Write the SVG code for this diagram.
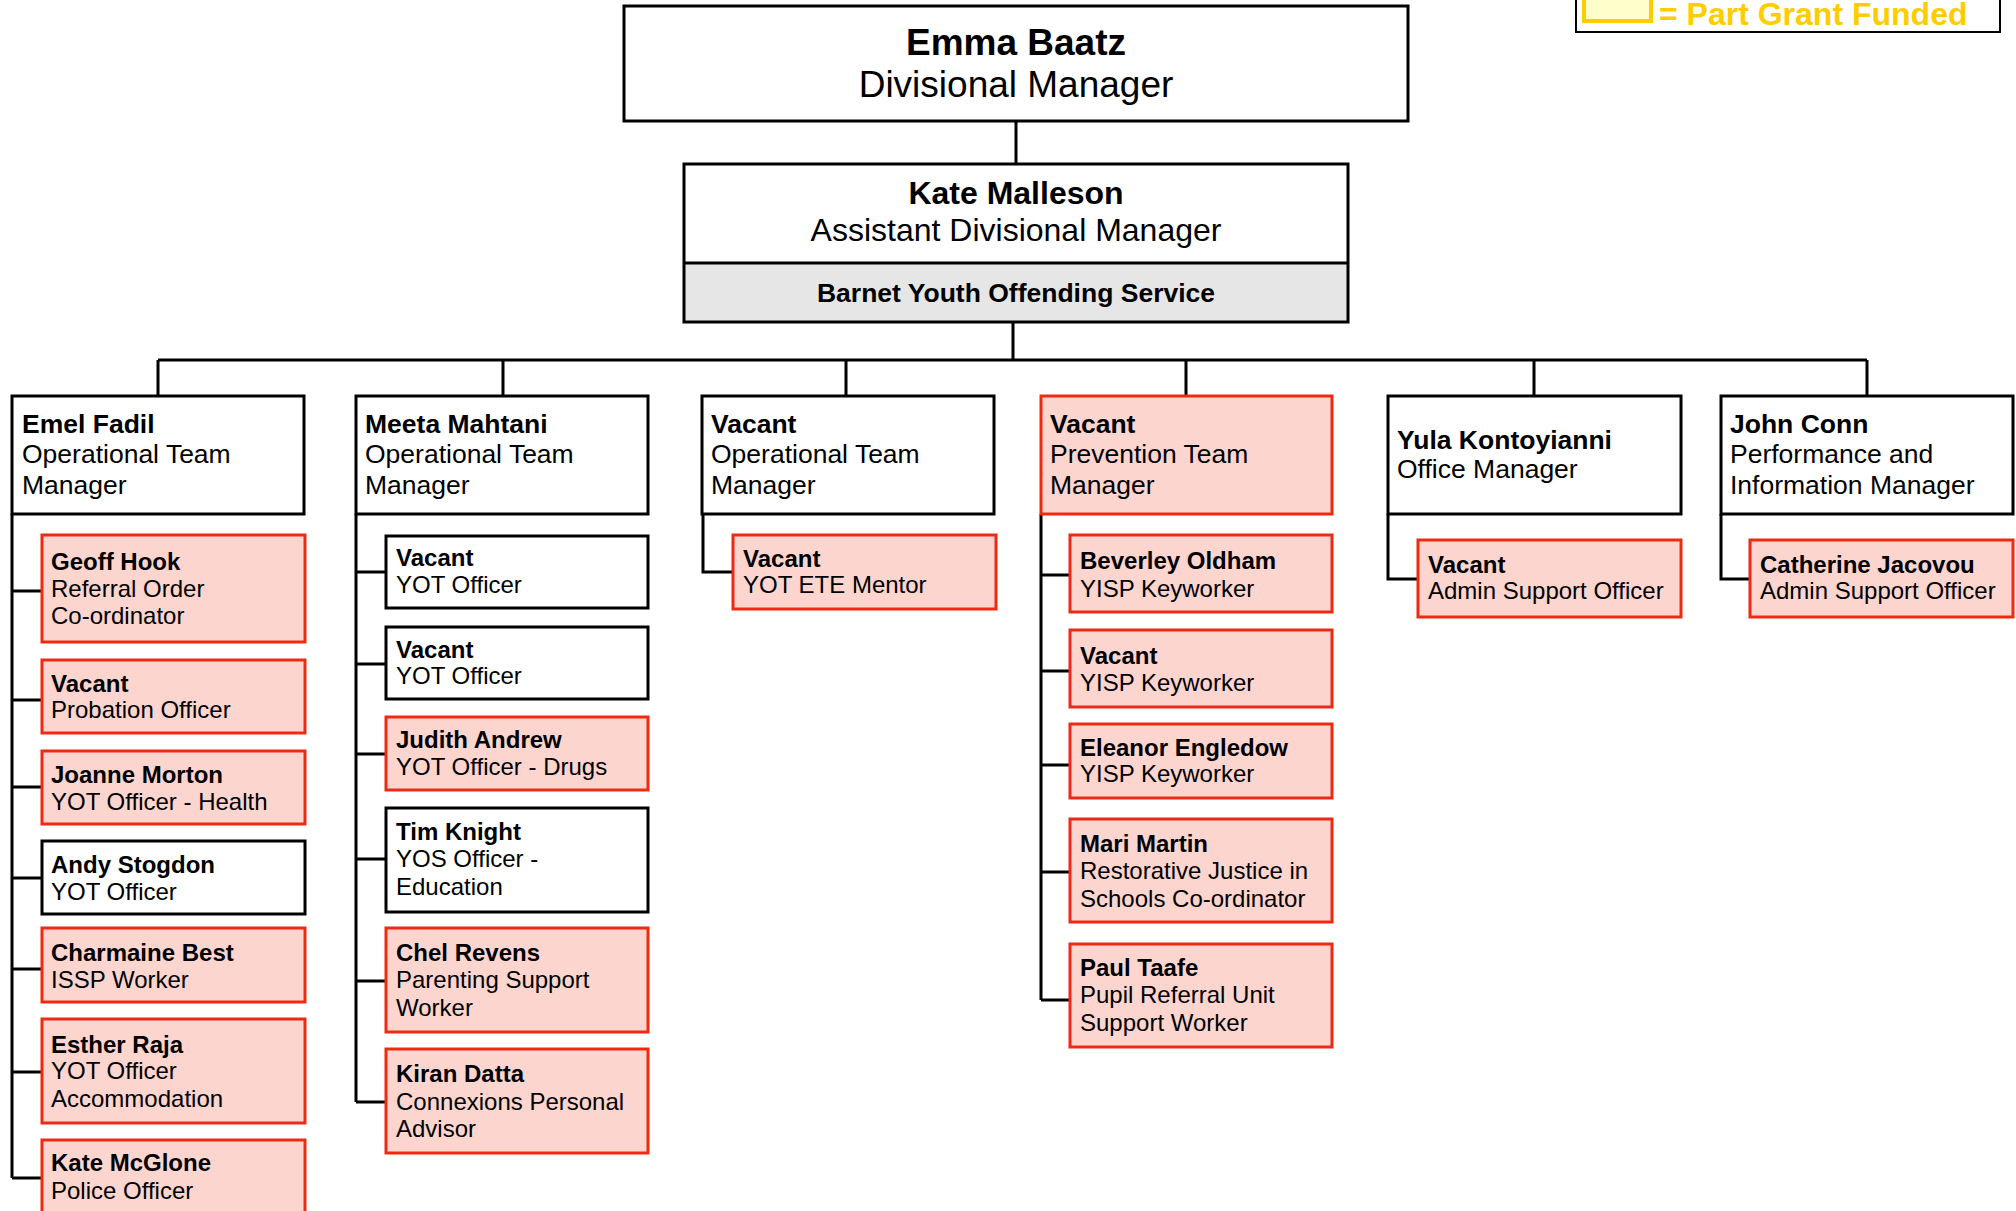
<svg xmlns="http://www.w3.org/2000/svg" width="2016" height="1211" viewBox="0 0 2016 1211">
<style>
.w{fill:#fff;stroke:#000;stroke-width:3}
.p{fill:#FCD5CF;stroke:#F02A12;stroke-width:3}
.c{fill:none;stroke:#000;stroke-width:3}
text{font-family:"Liberation Sans",Arial,sans-serif;fill:#000}
.b{font-weight:bold}
.f37{font-size:37px}
.f32{font-size:32px}
.f26{font-size:26.5px}
.f24{font-size:24px}
.m{text-anchor:middle}
</style>
<rect width="2016" height="1211" fill="#fff"/>
<g id="legend">
<rect x="1576" y="-10" width="424" height="42" fill="#fff" stroke="#000" stroke-width="2"/>
<rect x="1584" y="-10" width="67" height="31" fill="#FFFFCC" stroke="#FFCC00" stroke-width="4"/>
<text x="1659" y="25" class="b f32" style="fill:#FFCC00">= Part Grant Funded</text>
</g>
<g id="connectors">
<path class="c" d="M1016 121V164M1013 322V360M158 360H1867M158 360V396M503 360V396M846 360V396M1186 360V396M1534 360V396M1867 360V396"/>
<path class="c" d="M12 514V1178M12 591H42M12 700H42M12 787H42M12 878H42M12 969H42M12 1072H42M12 1178H42"/>
<path class="c" d="M356 514V1102M356 572H386M356 664H386M356 754H386M356 859H386M356 981H386M356 1102H386"/>
<path class="c" d="M703 514V572H733"/>
<path class="c" d="M1041 514V1000M1041 575H1070M1041 671H1070M1041 765H1070M1041 872H1070M1041 1000H1070"/>
<path class="c" d="M1388 514V579H1418"/>
<path class="c" d="M1721 514V579H1750"/>
</g>
<g id="emma">
<rect class="w" x="624" y="6" width="784" height="115"/>
<text x="1016" y="55" class="b f37 m">Emma Baatz</text>
<text x="1016" y="97" class="f37 m">Divisional Manager</text>
</g>
<g id="kate">
<rect x="684" y="263" width="664" height="59" fill="#E6E6E6"/>
<rect x="684" y="164" width="664" height="158" fill="none" stroke="#000" stroke-width="3"/>
<line x1="684" y1="263" x2="1348" y2="263" stroke="#000" stroke-width="3"/>
<text x="1016" y="204" class="b f32 m">Kate Malleson</text>
<text x="1016" y="241" class="f32 m">Assistant Divisional Manager</text>
<text x="1016" y="302" class="b f26 m">Barnet Youth Offending Service</text>
</g>
<g id="emel">
<rect class="w" x="12" y="396" width="292" height="118"/>
<text x="22" y="433" class="b f26">Emel Fadil</text>
<text x="22" y="463" class="f26">Operational Team</text>
<text x="22" y="494" class="f26">Manager</text>
</g>
<g id="geoff">
<rect class="p" x="42" y="535" width="263" height="107"/>
<text x="51" y="570" class="b f24">Geoff Hook</text>
<text x="51" y="597" class="f24">Referral Order</text>
<text x="51" y="624" class="f24">Co-ordinator</text>
</g>
<g id="probation">
<rect class="p" x="42" y="660" width="263" height="73"/>
<text x="51" y="692" class="b f24">Vacant</text>
<text x="51" y="718" class="f24">Probation Officer</text>
</g>
<g id="joanne">
<rect class="p" x="42" y="751" width="263" height="73"/>
<text x="51" y="783" class="b f24">Joanne Morton</text>
<text x="51" y="810" class="f24">YOT Officer - Health</text>
</g>
<g id="andy">
<rect class="w" x="42" y="841" width="263" height="73"/>
<text x="51" y="873" class="b f24">Andy Stogdon</text>
<text x="51" y="900" class="f24">YOT Officer</text>
</g>
<g id="charmaine">
<rect class="p" x="42" y="928" width="263" height="74"/>
<text x="51" y="961" class="b f24">Charmaine Best</text>
<text x="51" y="988" class="f24">ISSP Worker</text>
</g>
<g id="esther">
<rect class="p" x="42" y="1019" width="263" height="104"/>
<text x="51" y="1053" class="b f24">Esther Raja</text>
<text x="51" y="1079" class="f24">YOT Officer</text>
<text x="51" y="1107" class="f24">Accommodation</text>
</g>
<g id="katemcglone">
<rect class="p" x="42" y="1140" width="263" height="76"/>
<text x="51" y="1171" class="b f24">Kate McGlone</text>
<text x="51" y="1199" class="f24">Police Officer</text>
</g>
<g id="meeta">
<rect class="w" x="356" y="396" width="292" height="118"/>
<text x="365" y="433" class="b f26">Meeta Mahtani</text>
<text x="365" y="463" class="f26">Operational Team</text>
<text x="365" y="494" class="f26">Manager</text>
</g>
<g id="yot1">
<rect class="w" x="386" y="536" width="262" height="72"/>
<text x="396" y="566" class="b f24">Vacant</text>
<text x="396" y="593" class="f24">YOT Officer</text>
</g>
<g id="yot2">
<rect class="w" x="386" y="627" width="262" height="72"/>
<text x="396" y="658" class="b f24">Vacant</text>
<text x="396" y="684" class="f24">YOT Officer</text>
</g>
<g id="judith">
<rect class="p" x="386" y="717" width="262" height="73"/>
<text x="396" y="748" class="b f24">Judith Andrew</text>
<text x="396" y="775" class="f24">YOT Officer - Drugs</text>
</g>
<g id="tim">
<rect class="w" x="386" y="808" width="262" height="104"/>
<text x="396" y="840" class="b f24">Tim Knight</text>
<text x="396" y="867" class="f24">YOS Officer -</text>
<text x="396" y="895" class="f24">Education</text>
</g>
<g id="chel">
<rect class="p" x="386" y="928" width="262" height="104"/>
<text x="396" y="961" class="b f24">Chel Revens</text>
<text x="396" y="988" class="f24">Parenting Support</text>
<text x="396" y="1016" class="f24">Worker</text>
</g>
<g id="kiran">
<rect class="p" x="386" y="1049" width="262" height="104"/>
<text x="396" y="1082" class="b f24">Kiran Datta</text>
<text x="396" y="1110" class="f24">Connexions Personal</text>
<text x="396" y="1137" class="f24">Advisor</text>
</g>
<g id="otm3">
<rect class="w" x="702" y="396" width="292" height="118"/>
<text x="711" y="433" class="b f26">Vacant</text>
<text x="711" y="463" class="f26">Operational Team</text>
<text x="711" y="494" class="f26">Manager</text>
</g>
<g id="ete">
<rect class="p" x="733" y="535" width="263" height="74"/>
<text x="743" y="567" class="b f24">Vacant</text>
<text x="743" y="593" class="f24">YOT ETE Mentor</text>
</g>
<g id="prevention">
<rect class="p" x="1041" y="396" width="291" height="118"/>
<text x="1050" y="433" class="b f26">Vacant</text>
<text x="1050" y="463" class="f26">Prevention Team</text>
<text x="1050" y="494" class="f26">Manager</text>
</g>
<g id="beverley">
<rect class="p" x="1070" y="535" width="262" height="77"/>
<text x="1080" y="569" class="b f24">Beverley Oldham</text>
<text x="1080" y="597" class="f24">YISP Keyworker</text>
</g>
<g id="yisp2">
<rect class="p" x="1070" y="630" width="262" height="77"/>
<text x="1080" y="664" class="b f24">Vacant</text>
<text x="1080" y="691" class="f24">YISP Keyworker</text>
</g>
<g id="eleanor">
<rect class="p" x="1070" y="724" width="262" height="74"/>
<text x="1080" y="756" class="b f24">Eleanor Engledow</text>
<text x="1080" y="782" class="f24">YISP Keyworker</text>
</g>
<g id="mari">
<rect class="p" x="1070" y="819" width="262" height="103"/>
<text x="1080" y="852" class="b f24">Mari Martin</text>
<text x="1080" y="879" class="f24">Restorative Justice in</text>
<text x="1080" y="907" class="f24">Schools Co-ordinator</text>
</g>
<g id="paul">
<rect class="p" x="1070" y="944" width="262" height="103"/>
<text x="1080" y="976" class="b f24">Paul Taafe</text>
<text x="1080" y="1003" class="f24">Pupil Referral Unit</text>
<text x="1080" y="1031" class="f24">Support Worker</text>
</g>
<g id="yula">
<rect class="w" x="1388" y="396" width="293" height="118"/>
<text x="1397" y="449" class="b f26">Yula Kontoyianni</text>
<text x="1397" y="478" class="f26">Office Manager</text>
</g>
<g id="admin1">
<rect class="p" x="1418" y="540" width="263" height="77"/>
<text x="1428" y="573" class="b f24">Vacant</text>
<text x="1428" y="599" class="f24">Admin Support Officer</text>
</g>
<g id="john">
<rect class="w" x="1721" y="396" width="292" height="118"/>
<text x="1730" y="433" class="b f26">John Conn</text>
<text x="1730" y="463" class="f26">Performance and</text>
<text x="1730" y="494" class="f26">Information Manager</text>
</g>
<g id="catherine">
<rect class="p" x="1750" y="540" width="263" height="77"/>
<text x="1760" y="573" class="b f24">Catherine Jacovou</text>
<text x="1760" y="599" class="f24">Admin Support Officer</text>
</g>
</svg>
